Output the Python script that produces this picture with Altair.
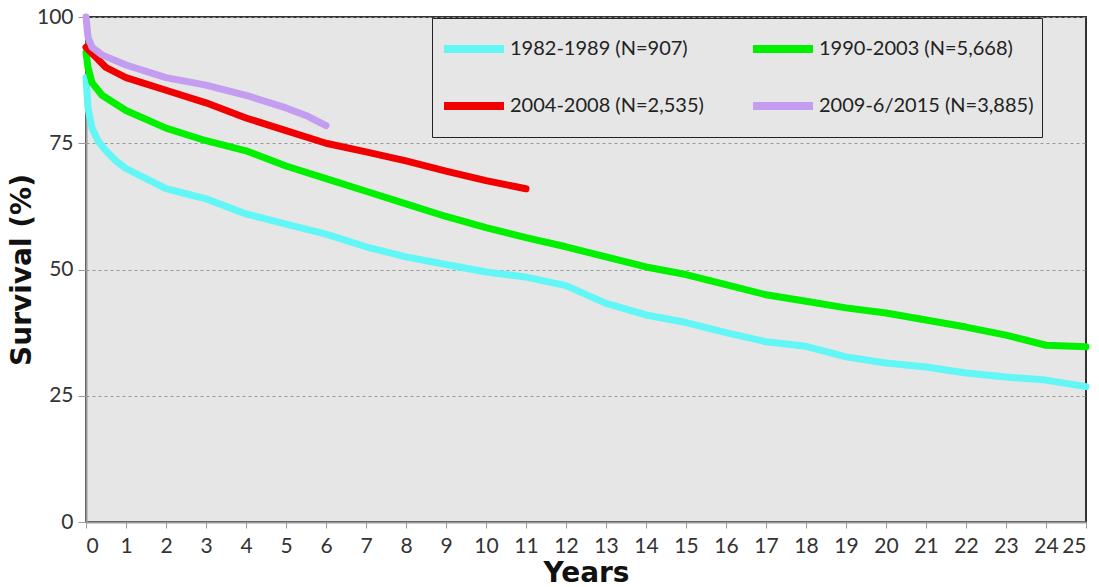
import altair as alt
import pandas as pd

series_names = ["1982-1989 (N=907)", "1990-2003 (N=5,668)", "2004-2008 (N=2,535)", "2009-6/2015 (N=3,885)"]
series_colors = ["#62f6f6", "#00f000", "#f00000", "#c49cf0"]

cyan_years = [0, 0.05, 0.15, 0.3, 0.5, 0.75, 1, 1.5, 2, 2.5, 3, 3.5, 4, 5, 6, 7, 8, 9, 10, 11, 12, 13, 14, 15, 16, 17, 18, 19, 20, 21, 22, 23, 24, 25]
cyan_vals = [88, 82, 78, 75.5, 73.5, 71.5, 70, 68, 66, 65, 64, 62.5, 61, 59, 57, 54.5, 52.5, 51, 49.5, 48.5, 46.8, 43.3, 41, 39.5, 37.5, 35.7, 34.8, 32.7, 31.5, 30.7, 29.5, 28.7, 28.1, 26.8]

green_years = [0, 0.05, 0.15, 0.4, 1, 2, 3, 4, 5, 6, 7, 8, 9, 10, 11, 12, 13, 14, 15, 16, 17, 18, 19, 20, 21, 22, 23, 24, 25]
green_vals = [93, 90, 87, 84.5, 81.5, 78, 75.5, 73.5, 70.5, 68, 65.5, 63, 60.5, 58.3, 56.3, 54.5, 52.5, 50.5, 49, 47, 45, 43.7, 42.4, 41.4, 40, 38.6, 37, 35, 34.7]

red_years = [0, 0.25, 0.5, 1, 2, 3, 4, 5, 6, 7, 8, 9, 10, 11]
red_vals = [94, 92, 90, 88, 85.5, 83, 80, 77.5, 75, 73.3, 71.5, 69.5, 67.6, 66]

purple_years = [0, 0.05, 0.15, 0.4, 1, 2, 3, 4, 5, 5.5, 6]
purple_vals = [100, 96, 94, 92.5, 90.5, 88, 86.5, 84.5, 82, 80.5, 78.5]

rows = []
for name, ys, vs in [
    (series_names[0], cyan_years, cyan_vals),
    (series_names[1], green_years, green_vals),
    (series_names[2], red_years, red_vals),
    (series_names[3], purple_years, purple_vals),
]:
    for i, (x, v) in enumerate(zip(ys, vs)):
        rows.append({"Years": x, "Survival": v, "Period": name, "order": i})
df = pd.DataFrame(rows)

label_font = "Lato"
title_font = "DejaVu Sans"

chart = alt.Chart(df).mark_line(strokeWidth=7, strokeCap="round", strokeJoin="round").encode(
    x=alt.X("Years:Q",
            scale=alt.Scale(domain=[0, 25], nice=False),
            axis=alt.Axis(title="Years", values=list(range(0, 26)), grid=False,
                          labelFontSize=21, labelFont=label_font, labelColor="#333",
                          titleFontSize=28, titleFont=title_font, titleFontWeight="bold",
                          titleColor="#111", titlePadding=3,
                          domainColor="#999", domainWidth=2, tickColor="#999",
                          tickSize=6, labelPadding=7)),
    y=alt.Y("Survival:Q",
            scale=alt.Scale(domain=[0, 100], nice=False),
            axis=alt.Axis(title="Survival (%)", values=[0, 25, 50, 75, 100],
                          grid=True, gridDash=[3, 3], gridColor="#999", gridWidth=1,
                          labelFontSize=21, labelFont=label_font, labelColor="#333",
                          titleFontSize=28, titleFont=title_font, titleFontWeight="bold",
                          titleColor="#111", titlePadding=0,
                          domainColor="#999", domainWidth=2, tickColor="#999",
                          tickSize=8, labelPadding=5)),
    color=alt.Color("Period:N",
                    scale=alt.Scale(domain=series_names, range=series_colors),
                    legend=alt.Legend(title=None, orient="none", legendX=346, legendY=1,
                                      direction="horizontal",
                                      columns=2, symbolType="stroke", symbolSize=3600,
                                      symbolStrokeWidth=8, labelFontSize=20, labelFont=label_font,
                                      labelColor="#222", labelOffset=2, columnPadding=45,
                                      clipHeight=46, rowPadding=11, padding=8,
                                      strokeColor="#222", fillColor="#e6e6e6",
                                      labelLimit=300)),
    order="order:Q",
).properties(
    width=1000, height=505,
    autosize=alt.AutoSizeParams(type="none"),
    padding={"left": 86, "top": 17, "right": 13, "bottom": 65},
).configure_view(
    fill="#e6e6e6", stroke="#333", strokeWidth=2
)

chart.save("out.html", embed_options={"renderer": "svg", "actions": False})
